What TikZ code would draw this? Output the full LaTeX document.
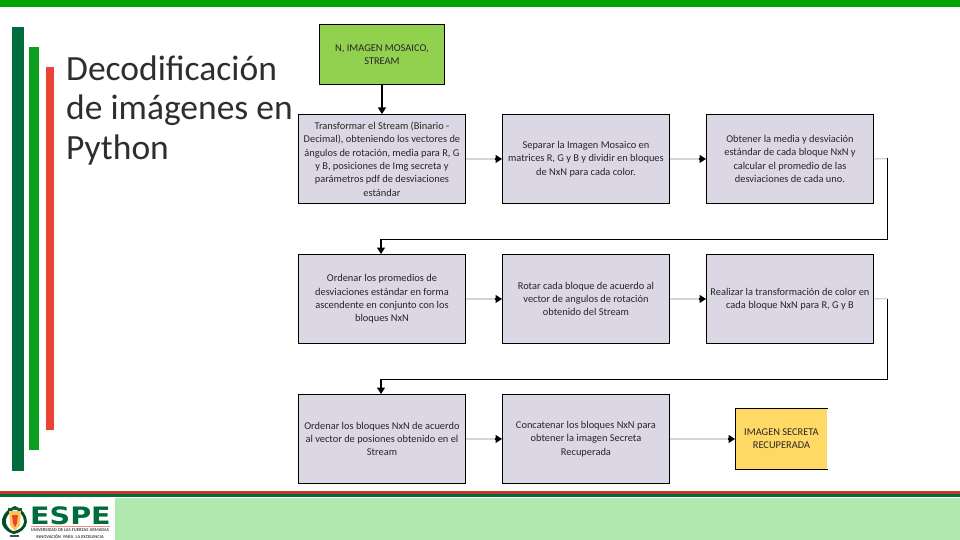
\documentclass[tikz,border=0pt]{standalone}
\usepackage{fontspec}
\setmainfont{Carlito}
\newfontfamily\logofont{DejaVu Sans}
\usetikzlibrary{arrows.meta,calc}
\definecolor{boxfill}{HTML}{DCD7E4}
\definecolor{topgreen}{HTML}{00A300}
\definecolor{darkgreen}{HTML}{006B3C}
\definecolor{midgreen}{HTML}{0AA01E}
\definecolor{redbar}{HTML}{EA4335}
\definecolor{lightband}{HTML}{B0E8B0}
\definecolor{startgreen}{HTML}{92D050}
\definecolor{endyellow}{HTML}{FFD966}
\definecolor{stub}{HTML}{D4D4D4}
\definecolor{boxtext}{HTML}{262626}
\tikzset{
  x=1pt,y=-1pt,
  flowbox/.style={draw=black,line width=0.9pt,fill=boxfill,minimum width=167pt,minimum height=89pt,inner sep=0pt,align=center,font=\fontsize{10.4}{13.4}\selectfont,text=boxtext,anchor=north west},
  startbox/.style={flowbox,fill=startgreen,minimum width=125pt,minimum height=60pt},
  endbox/.style={flowbox,fill=endyellow,draw=none,minimum width=92pt,minimum height=60pt},
  tipped/.style={-{Triangle[length=6.5pt,width=8pt,fill=black,color=black]},line width=1.2pt},
  blackline/.style={draw=black,line width=1pt},
  grayline/.style={draw=stub,line width=1.4pt},
}
\begin{document}
\begin{tikzpicture}
\useasboundingbox (0,0) rectangle (960,540);
\fill[white] (0,0) rectangle (960,540);
% frame
\fill[topgreen] (0,0) rectangle (960,7.5);
\fill[darkgreen] (12,27) rectangle (23.5,471);
\fill[midgreen] (29,47) rectangle (38.5,450);
\fill[redbar] (46,67.5) rectangle (54,430);
\fill[redbar!85!black] (0,490.5) rectangle (960,493.5);
\fill[darkgreen] (0,493.5) rectangle (960,496.5);
\fill[lightband] (115,498) rectangle (960,540);
% title
\node[anchor=north west,inner sep=0pt,align=left,font=\fontsize{35.5}{39.5}\selectfont,text=black!82] (title) at (66,55.5) {Decodificación\\de imágenes en\\Python};
% boxes
\node[startbox] (start) at (319,24.5) {N, IMAGEN MOSAICO,\\STREAM};
\node[flowbox] (a1) at (298,114) {Transformar el Stream (Binario -\\Decimal), obteniendo los vectores de\\ángulos de rotación, media para R, G\\y B, posiciones de Img secreta y\\parámetros pdf de desviaciones\\estándar};
\node[flowbox] (a2) at (502,114) {Separar la Imagen Mosaico en\\matrices R, G y B y dividir en bloques\\de NxN para cada color.};
\node[flowbox] (a3) at (706,114) {Obtener la media y desviación\\estándar de cada bloque NxN y\\calcular el promedio de las\\desviaciones de cada uno.};
\node[flowbox] (b1) at (298,254) {Ordenar los promedios de\\desviaciones estándar en forma\\ascendente en conjunto con los\\bloques NxN};
\node[flowbox] (b2) at (502,254) {Rotar cada bloque de acuerdo al\\vector de angulos de rotación\\obtenido del Stream};
\node[flowbox] (b3) at (706,254) {Realizar la transformación de color en\\cada bloque NxN para R, G y B};
\node[flowbox] (c1) at (298,394) {Ordenar los bloques NxN de acuerdo\\al vector de posiones obtenido en el\\Stream};
\node[flowbox] (c2) at (502,394) {Concatenar los bloques NxN para\\obtener la imagen Secreta\\Recuperada};
\node[endbox] (c3) at (735,408.5) {IMAGEN SECRETA\\RECUPERADA};
\draw[blackline] (c3.north west) -- (c3.south west) (c3.north west) -- (c3.north east) (c3.south west) -- (c3.south east);
% connectors
\draw[blackline,tipped] (start.south) -- (a1.north -| start.south);
\foreach \p/\q in {a1/a2,a2/a3,b1/b2,b2/b3,c1/c2,c2/c3}{
  \draw[grayline] (\p.east) -- ($(\q.west)+(-7,0)$);
  \draw[tipped,draw=black] ($(\q.west)+(-7.5,0)$) -- (\q.west);
}
% row returns
\coordinate (ra) at (887,158.5);
\coordinate (rb) at (887,298.5);
\coordinate (la) at (381,239);
\coordinate (lb) at (381,379);
\draw[grayline] (a3.east) -- (ra);
\draw[blackline] (ra) -- (ra |- la) -- (la);
\draw[blackline,tipped] (la) -- (b1.north -| la);
\draw[grayline] (b3.east) -- (rb);
\draw[blackline] (rb) -- (rb |- lb) -- (lb);
\draw[blackline,tipped] (lb) -- (c1.north -| lb);
% logo
\fill[white] (0,498) rectangle (115,540);
\node[inner sep=0pt,anchor=west,text=darkgreen,font=\logofont\fontsize{24}{24}\bfseries\selectfont] (espe) at (30,515.5) {\scalebox{1.19}[1]{ESPE}};
\fill[redbar!60] (31,526) rectangle (110,526.8);
\node[inner sep=0pt,text=black!70,font=\fontsize{4.5}{6.5}\bfseries\selectfont,align=center] (logotext) at (70,533.7) {UNIVERSIDAD DE LAS FUERZAS ARMADAS\\INNOVACIÓN\enspace PARA\enspace LA EXCELENCIA};
% crest
\fill[darkgreen!70!black] (15,506) .. controls (5,510) and (1,518) .. (2,524) .. controls (5,531) and (10,533) .. (14,534) .. controls (20,533) and (26,529) .. (27,522) .. controls (27,515) and (22,509) .. (15,506) -- cycle;
\fill[white] (15,509) .. controls (9,512) and (5,518) .. (6,523) .. controls (8,528) and (11,531) .. (14,531) .. controls (19,530) and (23,527) .. (24,522) .. controls (24,516) and (20,512) .. (15,509) -- cycle;
\fill[endyellow!80!orange] (9,511) -- (21,511) -- (20,525) -- (15,531) -- (10,525) -- cycle;
\fill[redbar] (12,515) -- (18,515) -- (17,523) -- (15,527) -- (13,523) -- cycle;
\fill[darkgreen] (8,508) rectangle (22,510);
\fill[black!70] (10,535) rectangle (19,537);
\end{tikzpicture}
\end{document}
